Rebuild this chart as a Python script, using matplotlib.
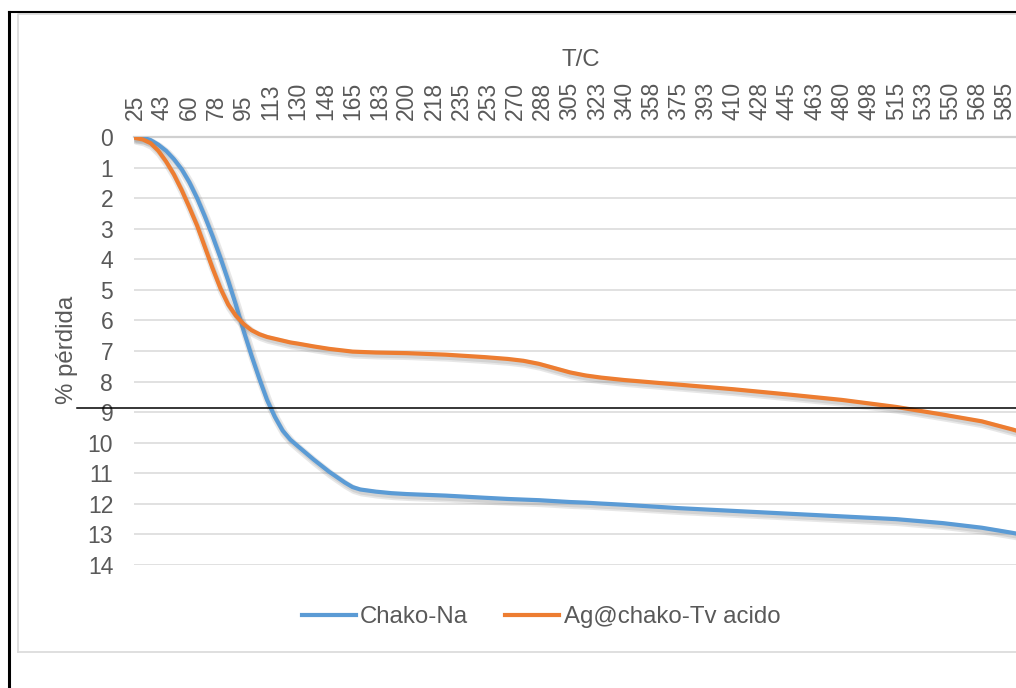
import numpy as np
import matplotlib.pyplot as plt
from matplotlib.lines import Line2D
import matplotlib.patheffects as pe

# temperature (C) and mass loss (%)
temp = [25, 30, 35, 40, 45, 50, 55, 60, 65, 70, 75, 80, 85, 90, 95, 100, 105, 110,
        115, 120, 125, 130, 140, 150, 160, 165, 170, 180, 190, 200, 225, 250, 265,
        275, 285, 295, 305, 315, 325, 340, 375, 410, 445, 480, 515, 545, 570, 590, 600]
chako_na = [0.0, 0.02, 0.1, 0.25, 0.45, 0.72, 1.05, 1.48, 2.0, 2.6, 3.25, 3.95,
            4.7, 5.5, 6.35, 7.15, 7.9, 8.6, 9.15, 9.6, 9.9, 10.12, 10.55, 10.95,
            11.3, 11.45, 11.53, 11.6, 11.65, 11.68, 11.73, 11.8, 11.84, 11.86, 11.88,
            11.91, 11.94, 11.96, 11.99, 12.03, 12.14, 12.23, 12.32, 12.41, 12.5,
            12.63, 12.78, 12.95, 13.05]
ag_chako = [0.03, 0.08, 0.2, 0.45, 0.8, 1.22, 1.73, 2.3, 2.9, 3.6, 4.3, 4.95,
            5.48, 5.85, 6.12, 6.32, 6.45, 6.54, 6.6, 6.66, 6.72, 6.76, 6.85, 6.93,
            6.99, 7.02, 7.03, 7.05, 7.06, 7.07, 7.12, 7.2, 7.26, 7.32, 7.42, 7.56,
            7.7, 7.8, 7.87, 7.95, 8.1, 8.25, 8.42, 8.6, 8.83, 9.08, 9.3, 9.57, 9.72]

tick_pos = [25 + 17.5 * i for i in range(33)]
tick_labels = ['25', '43', '60', '78', '95', '113', '130', '148', '165', '183', '200',
               '218', '235', '253', '270', '288', '305', '323', '340', '358', '375',
               '393', '410', '428', '445', '463', '480', '498', '515', '533', '550',
               '568', '585']

W, H = 1016, 688
plt.rcParams['font.family'] = ['Liberation Sans', 'DejaVu Sans']
gray = '#595959'
blue = '#5B9BD5'
orange = '#ED7D31'
fs_tick = 16.5
fs = 17.3

fig = plt.figure(figsize=(W / 100, H / 100), dpi=100)
left, right, top, bottom = 134, 1016, 137, 565
ax = fig.add_axes([left / W, 1 - bottom / H, (right - left) / W, (bottom - top) / H])

shadow = [pe.SimpleLineShadow(offset=(1.2, -2.0), shadow_color='#7f7f7f', alpha=0.18, linewidth=6),
          pe.SimpleLineShadow(offset=(1.2, -2.0), shadow_color='#7f7f7f', alpha=0.2, linewidth=3.5),
          pe.Normal()]
ax.plot(temp, chako_na, color=blue, lw=3, solid_capstyle='round',
        solid_joinstyle='round', path_effects=shadow, zorder=3)
ax.plot(temp, ag_chako, color=orange, lw=3, solid_capstyle='round',
        solid_joinstyle='round', path_effects=shadow, zorder=3)

ax.set_xlim(24.36, 592.1)
ax.set_ylim(14, 0)
ax.set_yticks(range(0, 15))
ax.set_xticks(tick_pos)
ax.set_xticklabels(tick_labels, rotation=90)
ax.xaxis.tick_top()
ax.tick_params(axis='x', length=0, pad=12, labelsize=fs_tick, labelcolor=gray)
ax.tick_params(axis='y', length=0, pad=15, labelsize=fs_tick, labelcolor=gray)
ax.grid(axis='y', color='#d9d9d9', lw=1.1)
ax.grid(axis='x', visible=False)
for s in ['left', 'right', 'bottom']:
    ax.spines[s].set_visible(False)
ax.spines['top'].set_color('#d0d0d0')
ax.spines['top'].set_linewidth(1.6)
ax.set_axisbelow(True)

fig.text(581 / W, 1 - 60 / H, 'T/C', ha='center', va='center', fontsize=fs, color=gray)
fig.text(67 / W, 1 - 350 / H, '% pérdida', ha='center', va='center', rotation=90,
         fontsize=fs, color=gray)

handles = [Line2D([], [], color=blue, lw=3), Line2D([], [], color=orange, lw=3)]
fig.legend(handles, ['Chako-Na', 'Ag@chako-Tv acido'], loc='center',
           bbox_to_anchor=(541 / W, 1 - 617 / H), ncol=2, frameon=False,
           fontsize=fs, labelcolor=gray, handlelength=2.25, handletextpad=0.17,
           columnspacing=1.55)

# chart area border (grey) and outer frame (black)
fig.add_artist(Line2D([18 / W, 18 / W, 1], [1 - 652 / H, 1 - 14 / H, 1 - 14 / H],
                      color='#d9d9d9', lw=1.2))
fig.add_artist(Line2D([18 / W, 1], [1 - 652 / H, 1 - 652 / H], color='#d9d9d9', lw=1.2))
fig.add_artist(Line2D([9 / W, 9 / W], [0, 1 - 12 / H], color='black', lw=2.2))
fig.add_artist(Line2D([9 / W, 1], [1 - 12 / H, 1 - 12 / H], color='black', lw=1.5))
# horizontal black rule across the plot
fig.add_artist(Line2D([77 / W, 1], [1 - 407.7 / H, 1 - 407.7 / H], color='black', lw=1.1))

fig.savefig('out.png', dpi=100, facecolor='white')
